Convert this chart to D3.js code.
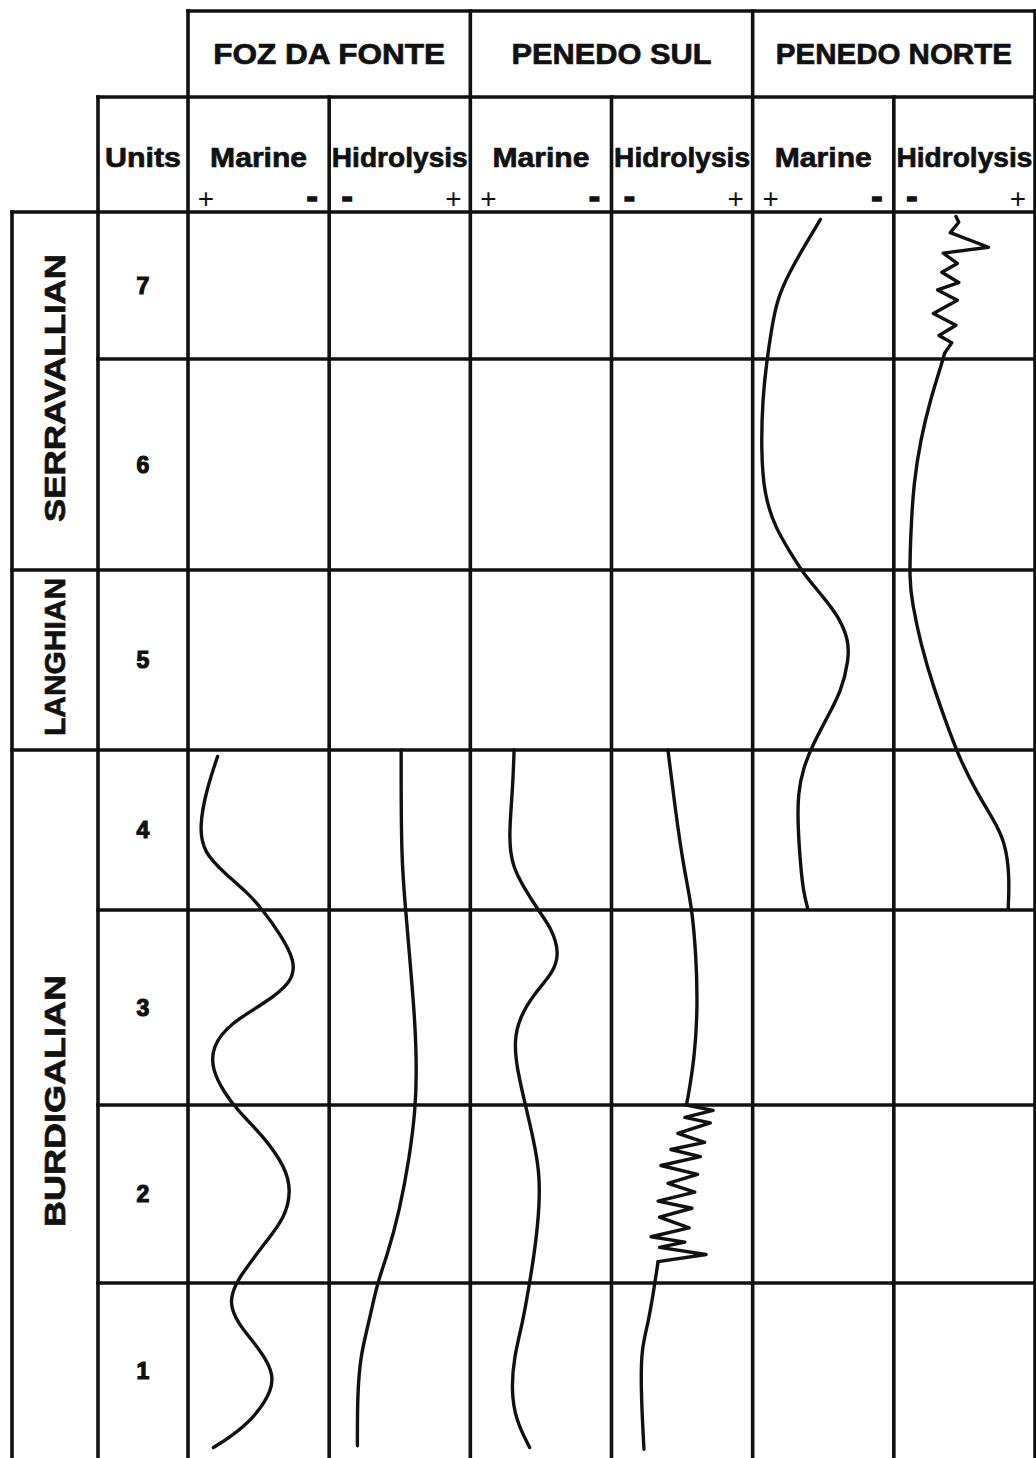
<!DOCTYPE html>
<html><head><meta charset="utf-8">
<script src="https://cdn.jsdelivr.net/npm/d3@7"></script>
<style>
body{margin:0;background:#fff}
svg{display:block}
text{font-family:"Liberation Sans",Arial,Helvetica,sans-serif;fill:#111}
</style>
</head><body>
<svg id="c" width="1036" height="1458"></svg>
<script>
// ---------- DATA ----------
const stations = ["FOZ DA FONTE", "PENEDO SUL", "PENEDO NORTE"];
const proxies = ["Marine", "Hidrolysis"];
const marineSigns = ["+", "-"];
const hidrolysisSigns = ["-", "+"];
const units = ["1", "2", "3", "4", "5", "6", "7"];           // unit i spans level i-1 .. i
const unitLevels = [0, 1, 2, 3, 4, 5, 6, 7];                 // unit boundaries (stratigraphic level)
const stages = ["BURDIGALIAN", "LANGHIAN", "SERRAVALLIAN"];
const stageBottom = [0, 4, 5];
const stageTop = [4, 5, 7];

// curves: [level, relative value 0 (left) .. 1 (right) within the column]
const fozMarine = [[3.96,0.21],[3.75,0.13],[3.52,0.08],[3.36,0.11],[3.23,0.26],[3.11,0.42],[3.00,0.53],[2.88,0.65],[2.74,0.76],[2.63,0.74],[2.52,0.54],[2.42,0.30],[2.30,0.17],[2.18,0.17],[2.06,0.26],[1.97,0.35],[1.82,0.54],[1.65,0.69],[1.52,0.73],[1.37,0.69],[1.22,0.54],[1.07,0.40],[1.00,0.34],[0.89,0.29],[0.77,0.35],[0.63,0.50],[0.50,0.60],[0.39,0.60],[0.23,0.47],[0.12,0.30],[0.06,0.18]];
const fozHidrolysis = [[4.00,0.51],[3.33,0.51],[3.02,0.54],[2.76,0.57],[2.42,0.61],[2.16,0.62],[1.97,0.61],[1.71,0.57],[1.41,0.50],[1.15,0.41],[1.00,0.34],[0.77,0.28],[0.58,0.22],[0.35,0.20],[0.07,0.20]];
const sulMarine = [[4.00,0.31],[3.75,0.30],[3.44,0.27],[3.27,0.30],[3.14,0.38],[3.00,0.48],[2.90,0.58],[2.78,0.63],[2.68,0.59],[2.57,0.45],[2.45,0.35],[2.33,0.31],[2.19,0.33],[2.03,0.38],[1.80,0.45],[1.62,0.49],[1.43,0.49],[1.20,0.46],[1.00,0.42],[0.77,0.37],[0.58,0.31],[0.39,0.29],[0.22,0.32],[0.06,0.42]];
const sulHidrolysisUpper = [[4.00,0.40],[3.64,0.45],[3.27,0.51],[3.02,0.57],[2.76,0.60],[2.50,0.61],[2.25,0.59],[2.03,0.54],[2.00,0.53]];
const sulHidrolysisZigzag = [[2.00,0.53],[1.97,0.72],[1.93,0.52],[1.90,0.70],[1.84,0.47],[1.79,0.66],[1.75,0.42],[1.71,0.63],[1.66,0.35],[1.61,0.61],[1.56,0.40],[1.51,0.59],[1.46,0.33],[1.42,0.57],[1.37,0.34],[1.31,0.55],[1.26,0.28],[1.23,0.52],[1.20,0.34],[1.16,0.67],[1.12,0.33]];
const sulHidrolysisLower = [[1.12,0.33],[0.96,0.30],[0.77,0.26],[0.62,0.21],[0.39,0.21],[0.20,0.22],[0.05,0.23]];
const norteMarine = [[6.95,0.48],[6.79,0.38],[6.59,0.26],[6.40,0.17],[6.18,0.13],[5.99,0.10],[5.81,0.07],[5.57,0.06],[5.36,0.08],[5.20,0.16],[5.08,0.27],[4.99,0.35],[4.85,0.50],[4.74,0.61],[4.61,0.68],[4.50,0.68],[4.33,0.63],[4.17,0.52],[4.02,0.42],[3.89,0.36],[3.73,0.32],[3.52,0.32],[3.27,0.34],[3.11,0.36],[3.01,0.39]];
const norteHidrolysisZigzag = [[6.97,0.44],[6.93,0.46],[6.86,0.40],[6.76,0.67],[6.72,0.35],[6.65,0.45],[6.59,0.34],[6.52,0.46],[6.47,0.31],[6.40,0.45],[6.31,0.28],[6.23,0.44],[6.16,0.32],[6.11,0.41],[6.04,0.36]];
const norteHidrolysisSmooth = [[6.04,0.36],[5.98,0.34],[5.81,0.26],[5.62,0.19],[5.41,0.14],[5.18,0.12],[4.94,0.11],[4.82,0.13],[4.59,0.19],[4.35,0.28],[4.09,0.40],[3.94,0.47],[3.73,0.59],[3.56,0.71],[3.42,0.79],[3.21,0.82],[3.01,0.81]];

// ---------- LAYOUT ----------
const svg = d3.select("#c");
const ink = "#111";
const xStageL = 12, xUnitL = 98, xColL = 188, xR = 1035;
const yTop = 11, ySub = 97, yBody = 212, yBottom = 1458;

const y = d3.scaleLinear().domain(unitLevels).range([1458, 1283, 1105, 910, 750, 570, 359, 212]);
const colKeys = d3.cross(stations, proxies).map(d => d.join("|"));
const xCol = d3.scaleBand().domain(colKeys).range([xColL, xR]);
const xStation = d3.scaleBand().domain(stations).range([xColL, xR]);

const series = [
  {col: "FOZ DA FONTE|Marine", data: fozMarine, jag: false},
  {col: "FOZ DA FONTE|Hidrolysis", data: fozHidrolysis, jag: false},
  {col: "PENEDO SUL|Marine", data: sulMarine, jag: false},
  {col: "PENEDO SUL|Hidrolysis", data: sulHidrolysisUpper, jag: false},
  {col: "PENEDO SUL|Hidrolysis", data: sulHidrolysisZigzag, jag: true},
  {col: "PENEDO SUL|Hidrolysis", data: sulHidrolysisLower, jag: false},
  {col: "PENEDO NORTE|Marine", data: norteMarine, jag: false},
  {col: "PENEDO NORTE|Hidrolysis", data: norteHidrolysisZigzag, jag: true},
  {col: "PENEDO NORTE|Hidrolysis", data: norteHidrolysisSmooth, jag: false},
];

// ---------- GRID ----------
const grid = svg.append("g").attr("stroke", ink).attr("stroke-width", 3.6).attr("stroke-linecap", "square");
const hl = (x1, x2, yy) => grid.append("line").attr("x1", x1).attr("x2", x2).attr("y1", yy).attr("y2", yy);
const vl = (xx, y1, y2) => grid.append("line").attr("x1", xx).attr("x2", xx).attr("y1", y1).attr("y2", y2);

hl(xColL, xR, yTop);
hl(xUnitL, xR, ySub);
unitLevels.slice(1).forEach(l => {
  const isStage = stageTop.includes(l);
  hl(isStage ? xStageL : xUnitL, xR, y(l));
});
vl(xStageL, yBody, yBottom + 5);
vl(xUnitL, ySub, yBottom + 5);
stations.forEach(s => vl(xStation(s), yTop, yBottom + 5));
vl(xR, yTop, yBottom + 5);
colKeys.filter(k => k.endsWith("Hidrolysis")).forEach(k => vl(xCol(k), ySub, yBottom + 5));

// ---------- HEADERS ----------
const bold = sel => sel.attr("font-weight", "bold").attr("stroke", ink).attr("stroke-width", 0.7)
  .attr("lengthAdjust", "spacingAndGlyphs");
const stationLen = {"FOZ DA FONTE": 232, "PENEDO SUL": 200, "PENEDO NORTE": 236};
bold(svg.append("g").selectAll("text").data(stations).join("text")
  .attr("x", s => xStation(s) + xStation.bandwidth() / 2)
  .attr("y", 64)
  .attr("text-anchor", "middle")
  .attr("font-size", 29)
  .attr("textLength", s => stationLen[s])
  .text(s => s));

bold(svg.append("text").attr("x", (xUnitL + xColL) / 2).attr("y", 167)
  .attr("text-anchor", "middle").attr("font-size", 28).attr("textLength", 76).text("Units"));

colKeys.forEach(k => {
  const p = k.split("|")[1];
  const x0 = xCol(k), bw = xCol.bandwidth();
  bold(svg.append("text").attr("x", x0 + bw / 2).attr("y", 167)
    .attr("text-anchor", "middle").attr("font-size", 28)
    .attr("textLength", p === "Marine" ? 97 : 136).text(p));
  const signs = p === "Marine" ? marineSigns : hidrolysisSigns;
  signs.forEach((s, i) => {
    const xx = i === 0 ? x0 + 18 : x0 + bw - 17;
    const t = svg.append("text").attr("x", xx).attr("y", 208)
      .attr("text-anchor", "middle")
      .text(s);
    if (s === "+") t.attr("font-size", 28).attr("font-weight", "normal");
    else t.attr("font-size", 34).attr("font-weight", "bold").attr("stroke", ink).attr("stroke-width", 1.4);
  });
});

// ---------- UNITS & STAGES ----------
bold(svg.append("g").selectAll("text").data(units).join("text")
  .attr("x", (xUnitL + xColL) / 2)
  .attr("y", (d, i) => (y(unitLevels[i]) + y(unitLevels[i + 1])) / 2)
  .attr("dy", "0.36em")
  .attr("text-anchor", "middle").attr("font-size", 23)
  .text(d => d))
  .attr("stroke-width", 1.2);

const stageLen = {"BURDIGALIAN": 252, "LANGHIAN": 158, "SERRAVALLIAN": 268};
bold(svg.append("g").selectAll("text").data(stages).join("text")
  .attr("transform", (d, i) => `translate(${(xStageL + xUnitL) / 2},${(y(stageBottom[i]) + y(stageTop[i])) / 2 - 3}) rotate(-90)`)
  .attr("dy", "0.36em")
  .attr("text-anchor", "middle").attr("font-size", 29)
  .attr("textLength", d => stageLen[d])
  .text(d => d));

// ---------- CURVES ----------
const curves = svg.append("g").attr("fill", "none").attr("stroke", ink)
  .attr("stroke-width", 3.4).attr("stroke-linejoin", "round").attr("stroke-linecap", "round");
series.forEach(s => {
  const xs = d3.scaleLinear().domain([0, 1]).range([xCol(s.col), xCol(s.col) + xCol.bandwidth()]);
  const line = d3.line().x(d => xs(d[1])).y(d => y(d[0]))
    .curve(s.jag ? d3.curveLinear : d3.curveBasis);
  curves.append("path").attr("d", line(s.data));
});
</script>
</body></html>
